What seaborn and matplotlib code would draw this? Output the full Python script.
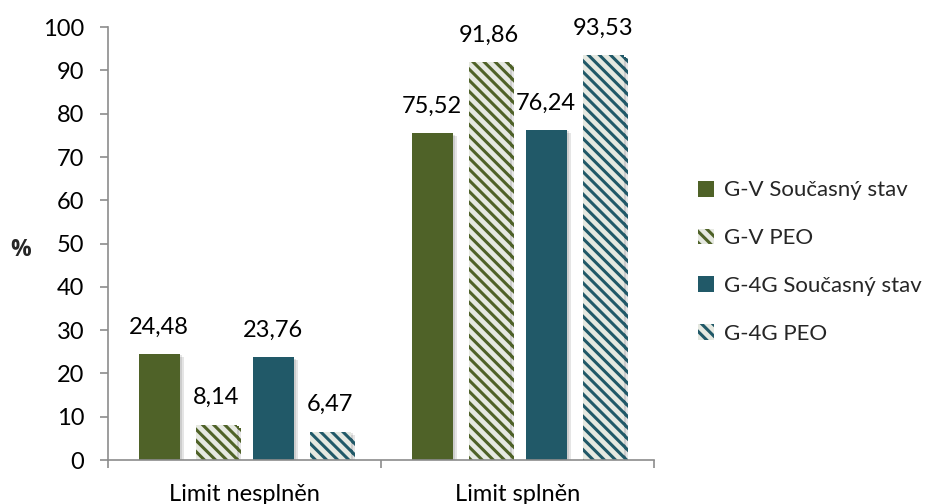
import matplotlib
matplotlib.use("Agg")
import matplotlib.pyplot as plt
import matplotlib.patheffects as pe
from matplotlib.patches import Patch
from matplotlib.ticker import FixedLocator
import seaborn as sns
import pandas as pd

categories = ["Limit nesplněn", "Limit splněn"]
series = ["G-V Současný stav", "G-V PEO", "G-4G Současný stav", "G-4G PEO"]
gv_soucasny = [24.48, 75.52]
gv_peo = [8.14, 91.86]
g4g_soucasny = [23.76, 76.24]
g4g_peo = [6.47, 93.53]
y_ticks = [0, 10, 20, 30, 40, 50, 60, 70, 80, 90, 100]

values = [gv_soucasny, gv_peo, g4g_soucasny, g4g_peo]
df = pd.DataFrame(
    [(c, s, v[i]) for s, v in zip(series, values) for i, c in enumerate(categories)],
    columns=["kategorie", "varianta", "procento"],
)

GREEN = "#4F6228"
TEAL = "#215968"
LIGHT = "#E6E9E1"
colors = [GREEN, GREEN, TEAL, TEAL]
hatched = [False, True, False, True]

sns.set_theme(style="white")
plt.rcParams["font.family"] = ["Lato", "DejaVu Sans"]
plt.rcParams["hatch.linewidth"] = 2.2

fig = plt.figure(figsize=(9.33, 5.04), dpi=100)
ax = fig.add_axes([0.1158, 0.0873, 0.701 - 0.1158, 0.946 - 0.0873])

sns.barplot(data=df, x="kategorie", y="procento", hue="varianta",
            hue_order=series, order=categories, palette=colors,
            width=0.835, gap=0.28, saturation=1, legend=False, ax=ax)

shadow = [pe.SimplePatchShadow(offset=(3, -2), shadow_rgbFace="black", alpha=0.10),
          pe.SimplePatchShadow(offset=(1.5, -1), shadow_rgbFace="black", alpha=0.10),
          pe.Normal()]

for cont, col, h in zip(ax.containers, colors, hatched):
    for bar in cont:
        bar.set_linewidth(0)
        if h:
            bar.set_facecolor(LIGHT)
            bar.set_edgecolor(col)
            bar.set_hatch("\\\\\\")
        bar.set_path_effects(shadow)
    labels = [f"{v:.2f}".replace(".", ",") for v in cont.datavalues]
    ax.bar_label(cont, labels=labels, padding=12, fontsize=17, color="black")

ax.set_ylim(0, 100)
ax.set_xlim(-0.5, 1.5)
ax.set_yticks(y_ticks)
ax.set_xlabel("")
ax.set_ylabel("%", rotation=0, fontsize=16.5, fontweight="bold", labelpad=0,
              va="center", ha="center", family=["Open Sans", "DejaVu Sans"])
ax.yaxis.set_label_coords(-0.161, 0.485)

for side in ["top", "right"]:
    ax.spines[side].set_visible(False)
for side in ["left", "bottom"]:
    ax.spines[side].set_color("#8C8C8C")
    ax.spines[side].set_linewidth(1.2)

ax.tick_params(axis="y", direction="out", length=6, width=1.2, color="#8C8C8C",
               labelsize=17, pad=11, left=True)
ax.tick_params(axis="x", which="major", length=0, labelsize=17, pad=17)
ax.xaxis.set_minor_locator(FixedLocator([-0.5, 0.5, 1.5]))
ax.tick_params(axis="x", which="minor", direction="out", length=6, width=1.2,
               color="#8C8C8C", bottom=True)
for lab in ax.get_xticklabels() + ax.get_yticklabels():
    lab.set_color("black")

handles = []
for s, col, h in zip(series, colors, hatched):
    if h:
        handles.append(Patch(facecolor=LIGHT, edgecolor=col, hatch="\\\\\\", linewidth=0, label=s))
    else:
        handles.append(Patch(facecolor=col, edgecolor=col, linewidth=0, label=s))
fig.legend(handles=handles, loc="center left", bbox_to_anchor=(0.727, 0.48),
           frameon=False, fontsize=16, handlelength=0.72, handleheight=0.72,
           handletextpad=0.45, labelspacing=1.25)

fig.savefig("out.png", dpi=100)
